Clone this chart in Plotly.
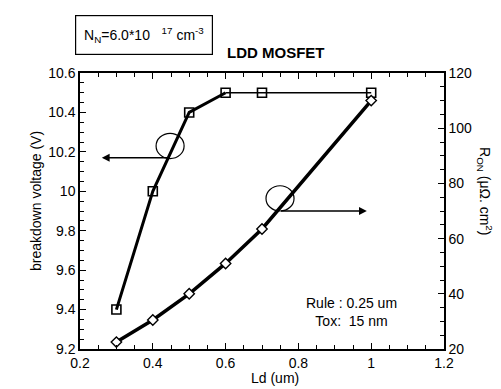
import plotly.graph_objects as go

# Data
ld = [0.3, 0.4, 0.5, 0.6, 0.7, 1.0]
bv = [9.4, 10.0, 10.4, 10.5, 10.5, 10.5]
ron = [22.5, 30.5, 40.0, 51.0, 63.5, 110.0]

x_ticks = [0.2, 0.4, 0.6, 0.8, 1.0, 1.2]
x_ticklabels = ["0.2", "0.4", "0.6", "0.8", "1", "1.2"]
yl_ticks = [9.2, 9.4, 9.6, 9.8, 10.0, 10.2, 10.4, 10.6]
yl_ticklabels = ["9.2", "9.4", "9.6", "9.8", "10", "10.2", "10.4", "10.6"]
yr_ticks = [20, 40, 60, 80, 100, 120]

FONT = "Liberation Sans, Arial, sans-serif"
W, H = 501, 389
L, R, T, B = 72, 436, 65, 341
PW, PH = R - L, B - T


def px(xp):
    return (xp - L) / PW


def py(yp):
    return (B - yp) / PH


fig = go.Figure()

# breakdown voltage (squares) - thick part then thin part
fig.add_trace(go.Scatter(x=ld[:4], y=bv[:4], mode="lines", line=dict(color="black", width=3),
                         hoverinfo="skip", showlegend=False))
fig.add_trace(go.Scatter(x=ld[3:], y=bv[3:], mode="lines", line=dict(color="black", width=1.6),
                         hoverinfo="skip", showlegend=False))
fig.add_trace(go.Scatter(x=ld, y=bv, mode="markers",
                         marker=dict(symbol="square-open", size=9, color="black",
                                     line=dict(width=1.6, color="black")),
                         showlegend=False))
# R_on (diamonds)
fig.add_trace(go.Scatter(x=ld, y=ron, mode="lines+markers", yaxis="y2",
                         line=dict(color="black", width=3.5),
                         marker=dict(symbol="diamond", size=8, color="white",
                                     line=dict(width=1.4, color="black")),
                         showlegend=False))

axis_common = dict(showline=True, linecolor="black", linewidth=1.5, ticks="inside",
                   ticklen=6, tickwidth=1, tickcolor="black", showgrid=False, zeroline=False,
                   tickfont=dict(family=FONT, size=14, color="black"))

fig.update_layout(
    width=W, height=H,
    margin=dict(l=L, r=W - R, t=T, b=H - B),
    paper_bgcolor="white", plot_bgcolor="white",
    font=dict(family=FONT, size=14, color="black"),
    xaxis=dict(range=[0.2, 1.2], tickvals=x_ticks, ticktext=x_ticklabels, mirror="ticks",
               minor=dict(dtick=0.05, ticks="inside", ticklen=4, tickcolor="black"),
               **axis_common),
    yaxis=dict(range=[9.2, 10.6], tickvals=yl_ticks, ticktext=yl_ticklabels,
               minor=dict(dtick=0.05, ticks="inside", ticklen=4, tickcolor="black"),
               **axis_common),
    yaxis2=dict(range=[20, 120], tickvals=yr_ticks, overlaying="y", side="right",
                minor=dict(dtick=5, ticks="inside", ticklen=4, tickcolor="black"),
                **axis_common),
)

# circles marking which curve belongs to which axis
fig.add_shape(type="circle", xref="x", yref="y", x0=0.409, x1=0.486, y0=10.166, y1=10.294,
              line=dict(color="black", width=1.2))
fig.add_shape(type="circle", xref="x", yref="y", x0=0.711, x1=0.788, y0=9.90, y1=10.028,
              line=dict(color="black", width=1.2))

# arrows
fig.add_annotation(x=0.26, y=10.17, ax=0.445, ay=10.17, xref="x", yref="y", axref="x", ayref="y",
                   showarrow=True, arrowhead=2, arrowsize=1.2, arrowwidth=1.3, arrowcolor="black", text="")
fig.add_annotation(x=0.988, y=9.90, ax=0.748, ay=9.90, xref="x", yref="y", axref="x", ayref="y",
                   showarrow=True, arrowhead=2, arrowsize=1.2, arrowwidth=1.3, arrowcolor="black", text="")

# texts
fig.add_annotation(x=0.947, y=9.39, xref="x", yref="y", showarrow=False,
                   text="Rule : 0.25 um<br>Tox:  15 nm", font=dict(size=14), align="center")

fig.add_annotation(x=px(18), y=py(193), xref="paper", yref="paper", showarrow=False,
                   text="breakdown voltage (V)", textangle=-90, font=dict(size=14))
fig.add_annotation(x=px(489), y=py(183), xref="paper", yref="paper", showarrow=False,
                   text="R<sub>ON</sub> (μΩ. cm<sup>2</sup>)", textangle=90, font=dict(size=14))
fig.add_annotation(x=px(267), y=py(380), xref="paper", yref="paper", showarrow=False,
                   text="Ld (um)", font=dict(size=14))

fig.add_annotation(x=px(67), y=py(7), xref="paper", yref="paper",
                   xanchor="left", yanchor="top", showarrow=False,
                   text="N<sub>N</sub>=6.0*10   <sup>17</sup> cm<sup>-3</sup>",
                   font=dict(size=14), bordercolor="black", borderwidth=1.2, borderpad=5,
                   width=126, height=28)
fig.add_annotation(x=px(217), y=py(44), xref="paper", yref="paper",
                   xanchor="left", yanchor="middle", showarrow=False,
                   text="<b>LDD MOSFET</b>", font=dict(size=15))

fig.write_html("out.html")
